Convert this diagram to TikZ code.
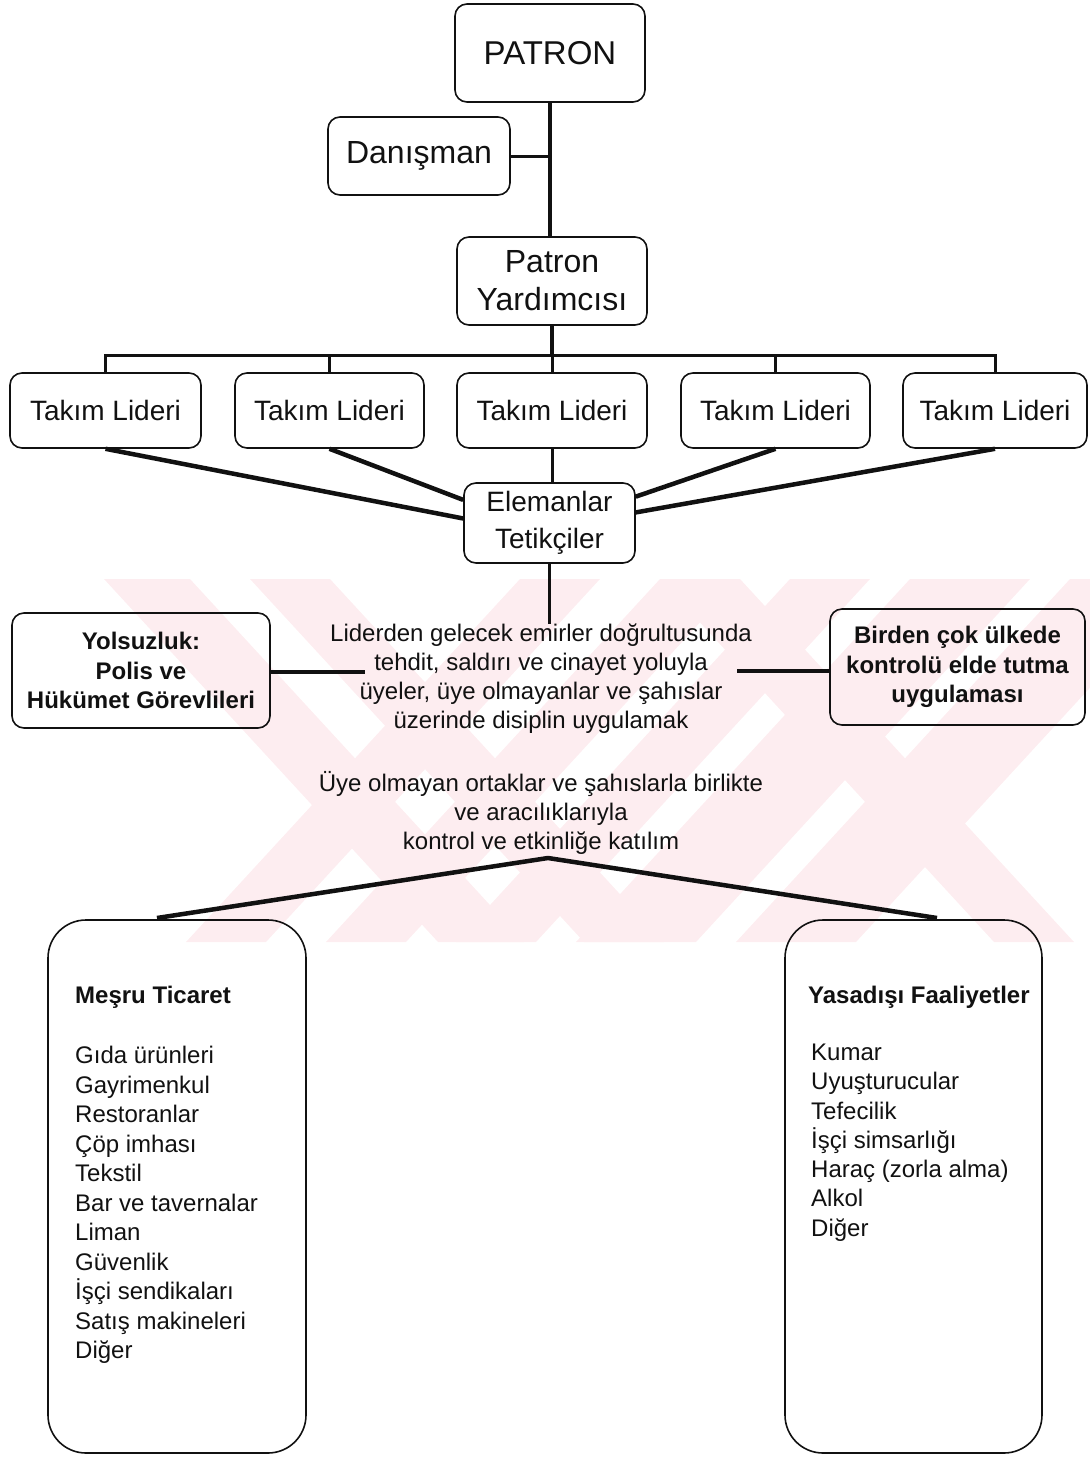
\documentclass[tikz,border=0pt]{standalone}
\usepackage{fontspec}
\setmainfont{Liberation Sans}
\usetikzlibrary{calc}
\definecolor{ink}{HTML}{111111}
\definecolor{wm}{HTML}{FDEDF0}
\tikzset{
  box/.style={draw=ink, line width=1.6pt, rounded corners=12pt, inner sep=0pt, align=center, text=ink},
  bigbox/.style={draw=ink, line width=1.6pt, rounded corners=38pt, inner sep=0pt},
  trunk/.style={draw=ink, line width=4.5pt},
  link/.style={draw=ink, line width=3pt},
  big/.style={font=\fontsize{33}{38}\selectfont},
  mid/.style={font=\fontsize{32}{38}\selectfont},
  tl/.style={font=\fontsize{28}{37}\selectfont},
  txt/.style={font=\fontsize{24}{29}\selectfont, align=center, inner sep=0pt, text=ink},
  btxt/.style={font=\bfseries\fontsize{24}{29.5}\selectfont, align=center, text=ink},
  list/.style={font=\fontsize{24}{29.5}\selectfont, align=left, anchor=north west, inner sep=0pt, text=ink},
}
\begin{document}
\begin{tikzpicture}[x=1pt, y=-1pt]
  \useasboundingbox (0,0) rectangle (1090,1457);
  % watermark stripes
  \begin{scope}
    \clip (0,579) rectangle (1090,942);
    \foreach \a/\b in {104/190, 250/330, 660/740}
      \fill[wm] (\a,579) -- (\b,579) -- (\b+334,942) -- (\a+334,942) -- cycle;
    \foreach \a/\b in {520/600, 660/740, 790/870, 910/1030, 1070/1190}
      \fill[wm] (\a,579) -- (\b,579) -- (\b-334,942) -- (\a-334,942) -- cycle;
  \end{scope}

  % top of the chart
  \node[box, big, minimum width=190pt, minimum height=98pt] (patron) at (550,53) {PATRON};
  \node[box, mid, minimum width=182pt, minimum height=78pt] (danisman) at (419,156) {Danışman};
  \node[box, mid, minimum width=190pt, minimum height=88pt] (yard) at (552,281) {Patron\\Yardımcısı};
  \draw[trunk] (patron.south) -- (patron.south |- yard.north);
  \draw[link] (danisman.east) -- (danisman.east -| patron.south);

  % team leaders
  \coordinate (bus) at (550,355);
  \foreach \i/\x/\w in {1/105.5/191, 2/329.5/189, 3/552/190, 4/775.5/189, 5/995/184}
    \node[box, tl, minimum width=\w pt, minimum height=75pt] (takim\i) at (\x,410.5) {Takım Lideri};
  \draw[trunk] (yard.south) -- (yard.south |- bus);
  \draw[link] (takim1.north) |- (bus) -| (takim5.north);
  \foreach \i in {2,3,4}
    \draw[link] (takim\i.north) -- (takim\i.north |- bus);

  \node[box, tl, minimum width=171pt, minimum height=80pt] (elem) at (549.5,523) {Elemanlar\\Tetikçiler};
  \draw[trunk] (takim1.south) -- (elem.177);
  \draw[trunk] (takim2.south) -- (elem.165);
  \draw[link] (takim3.south) -- (takim3.south |- elem.north);
  \draw[trunk] (takim4.south) -- (elem.17);
  \draw[trunk] (takim5.south) -- (elem.7);

  % discipline
  \node[txt] (orders) at (541,679) {Liderden gelecek emirler doğrultusunda\\tehdit, saldırı ve cinayet yoluyla\\üyeler, üye olmayanlar ve şahıslar\\üzerinde disiplin uygulamak};
  \draw[link] (elem.south) -- (elem.south |- orders.north);
  \node[box, btxt, minimum width=258pt, minimum height=115pt] (yols) at (141,670.5) {Yolsuzluk:\\Polis ve\\Hükümet Görevlileri};
  \node[box, btxt, minimum width=255pt, minimum height=116pt] (birden) at (957.5,667) {Birden çok ülkede\\kontrolü elde tutma\\uygulaması};
  \coordinate (ordl) at (365,672);
  \coordinate (ordr) at (737,671);
  \draw[trunk] (yols.east |- ordl) -- (ordl);
  \draw[trunk] (ordr) -- (birden.west |- ordr);

  % participation
  \node[txt] (part) at (541,813) {Üye olmayan ortaklar ve şahıslarla birlikte\\ve aracılıklarıyla\\kontrol ve etkinliğe katılım};
  \coordinate (apex) at (548,858);
  \node[bigbox, minimum width=258pt, minimum height=533pt] (mesru) at (177,1186.5) {};
  \node[bigbox, minimum width=257pt, minimum height=533pt] (yasa) at (913.5,1186.5) {};
  \coordinate (lend) at (157,918);
  \coordinate (rend) at (937,918);
  \draw[trunk, line join=round] (lend) -- (apex) -- (rend);

  \node[list] (mesrutxt) at (75,986) {\textbf{Meşru Ticaret}\\[30.5pt]Gıda ürünleri\\Gayrimenkul\\Restoranlar\\Çöp imhası\\Tekstil\\Bar ve tavernalar\\Liman\\Güvenlik\\İşçi sendikaları\\Satış makineleri\\Diğer};
  \node[list, font=\fontsize{24}{29.3}\selectfont] (yasatxt) at (808,986) {\textbf{Yasadışı Faaliyetler}\\[27.5pt]\hspace*{3pt}Kumar\\\hspace*{3pt}Uyuşturucular\\\hspace*{3pt}Tefecilik\\\hspace*{3pt}İşçi simsarlığı\\\hspace*{3pt}Haraç (zorla alma)\\\hspace*{3pt}Alkol\\\hspace*{3pt}Diğer};
\end{tikzpicture}
\end{document}
